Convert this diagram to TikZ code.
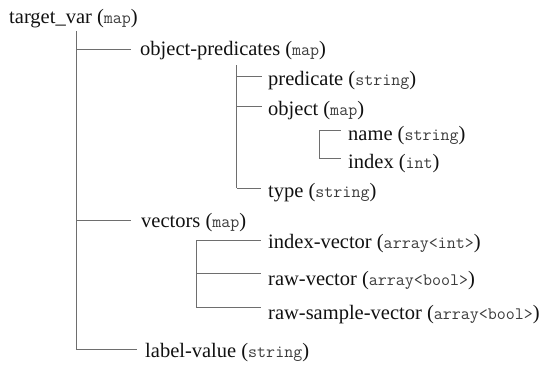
\documentclass[tikz,border=0pt]{standalone}
\usepackage{fontspec}
\setmainfont{Liberation Serif}
\setmonofont{Latin Modern Mono}
\definecolor{linegray}{HTML}{6E6E6E}
\definecolor{typegray}{HTML}{3C3C3C}
\definecolor{textblack}{HTML}{111111}
\newcommand\dtype[1]{{\fontsize{17.5}{20}\selectfont\ttfamily\color{typegray}#1}}
\begin{document}
\begin{tikzpicture}[x=1pt,y=-1pt,
  lbl/.style={anchor=base west, inner sep=0pt, text=textblack, font=\fontsize{20.5}{24}\selectfont},
  branch/.style={draw=linegray, line width=0.9pt}]
\useasboundingbox (0,0) rectangle (548,365);
% labels
\node[lbl] (root) at (9,23) {target\_var (\dtype{map})};
\node[lbl] (op)   at (140,55) {object-predicates (\dtype{map})};
\node[lbl] (pred) at (268,85) {predicate (\dtype{string})};
\node[lbl] (obj)  at (268,115) {object (\dtype{map})};
\node[lbl] (name) at (348,140) {name (\dtype{string})};
\node[lbl] (idx)  at (348,168) {index (\dtype{int})};
\node[lbl] (type) at (268,197) {type (\dtype{string})};
\node[lbl] (vec)  at (141,227) {vectors (\dtype{map})};
\node[lbl] (iv)   at (268,248) {index-vector (\dtype{array<int>})};
\node[lbl] (rv)   at (268,285) {raw-vector (\dtype{array<bool>})};
\node[lbl] (rsv)  at (268,319) {raw-sample-vector (\dtype{array<bool>})};
\node[lbl] (lv)   at (145,357) {label-value (\dtype{string})};
% trunk coordinates
\coordinate (t0a) at (76,31);   \coordinate (t0b) at (76,349.7);
\coordinate (t1a) at (236.7,65); \coordinate (t1b) at (236.7,188.3);
\coordinate (t2a) at (319,130); \coordinate (t2b) at (319,158.3);
\coordinate (t3a) at (196,240); \coordinate (t3b) at (196,307.3);
% branch ends
\coordinate (e1) at (131,49);
\coordinate (e2) at (261.5,76.7);
\coordinate (e3) at (261.5,106.7);
\coordinate (e4) at (340.5,130);
\coordinate (e5) at (340.5,158.3);
\coordinate (e6) at (261,188.3);
\coordinate (e7) at (131,220.7);
\coordinate (e8) at (261,240);
\coordinate (e9) at (261,273.3);
\coordinate (e10) at (261,307.3);
\coordinate (e11) at (137,349.7);
% trunks
\draw[branch] (t0a) -- (t0b);
\draw[branch] (t1a) -- (t1b);
\draw[branch] (t2a) -- (t2b);
\draw[branch] (t3a) -- (t3b);
% branches
\draw[branch] (t0a |- e1) -- (e1);
\draw[branch] (t1a |- e2) -- (e2);
\draw[branch] (t1a |- e3) -- (e3);
\draw[branch] (t2a |- e4) -- (e4);
\draw[branch] (t2a |- e5) -- (e5);
\draw[branch] (t1a |- e6) -- (e6);
\draw[branch] (t0a |- e7) -- (e7);
\draw[branch] (t3a |- e8) -- (e8);
\draw[branch] (t3a |- e9) -- (e9);
\draw[branch] (t3a |- e10) -- (e10);
\draw[branch] (t0a |- e11) -- (e11);
\end{tikzpicture}
\end{document}
